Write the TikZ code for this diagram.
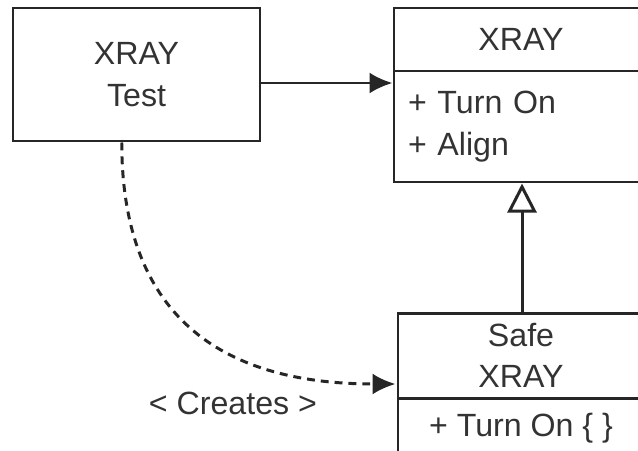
\documentclass[tikz,border=0pt]{standalone}
\usepackage{fontspec}
\setmainfont{Liberation Sans}
\usepackage{tikz}
\usetikzlibrary{calc}
\usetikzlibrary{arrows.meta}
\tikzset{
  umlbox/.style={draw=black!85, line width=1.7pt, rectangle, inner sep=0pt, align=center,
    font=\fontsize{18.3}{23.6}\selectfont, text=black!80},
  umltext/.style={font=\fontsize{18.3}{23.6}\selectfont, text=black!80, inner sep=0pt},
  link/.style={draw=black!85, line width=1.7pt},
}

\begin{document}
\begin{tikzpicture}
        \clip (0,0) rectangle (12.76,-9.0);
        % client box
        \node[umlbox, minimum width=4.94cm, minimum height=2.66cm] (test) at (2.73,-1.49) {XRAY\\Test};
        % XRAY class
        \node[umlbox, minimum width=5.08cm, minimum height=1.26cm] (xray) at (10.42,-0.79) {XRAY};
        \node[umlbox, minimum width=5.08cm, minimum height=2.22cm, align=left, text width=4.52cm] (xraybody) at (10.42,-2.53) {+ Turn On\\+ Align};
        % Safe XRAY class
        \node[umlbox, minimum width=4.92cm, minimum height=1.7cm] (safe) at (10.42,-7.11) {Safe\\XRAY};
        \node[umlbox, minimum width=4.92cm, minimum height=1.2cm] (safebody) at (10.42,-8.56) {+ Turn On \{ \}};
        % connectors
        \draw[link, -{Latex[length=0.46cm,width=0.42cm]}] ($(test.east)+(0,-0.17)$) -- ($(test.east -| xraybody.west)+(0,-0.17)$);
        \coordinate (inh) at (10.44,-6.26);
        \draw[link, -{Triangle[open,length=0.58cm,width=0.58cm,fill=white]}] (inh) -- (inh |- xraybody.south);
        \coordinate (crstart) at ($(test.south west)!0.441!(test.south east)$);
        \coordinate (crend) at ($(safe.west)+(-0.02,-0.57)$);
        \draw[link, dash pattern=on 4.5pt off 3.4pt, -{Latex[length=0.46cm,width=0.42cm]}]
            (crstart) .. controls +(0,-3.6) and +(-3.34,0) .. (crend);
        \node[umltext] (creates) at (4.66,-8.06) {< Creates >};
\end{tikzpicture}
\end{document}
